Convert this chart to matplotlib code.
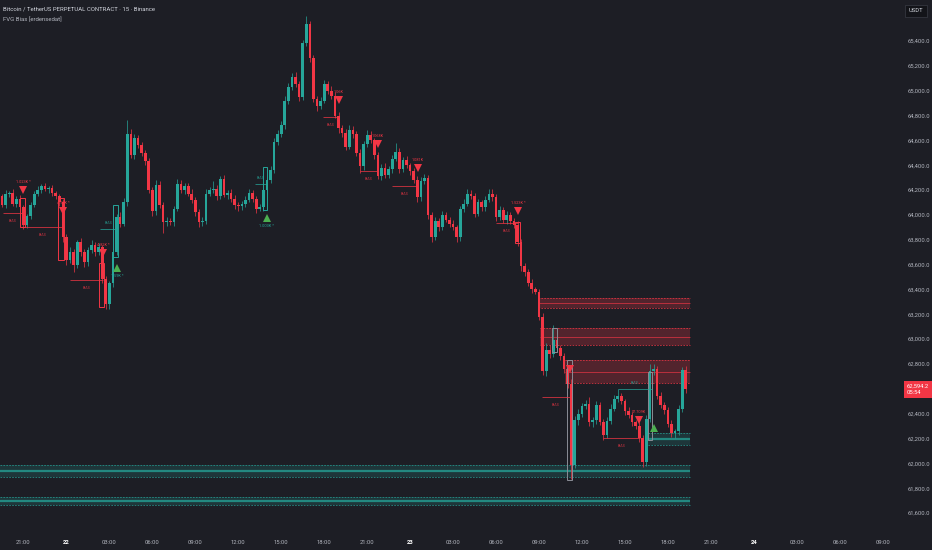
import matplotlib.pyplot as plt
import matplotlib.transforms as mtransforms
import numpy as np
from matplotlib.patches import Rectangle

plt.rcParams['font.family'] = ['Roboto', 'DejaVu Sans']

BG = '#1d1e25'
UP = '#26a69a'
DOWN = '#f23645'
TXT = '#b2b5be'

# --- candles (15m), index 0 = 19:30 on the 21st
open0 = 64150
closes = [
    64080, 64170, 64180, 64090, 64130, 64060, 63920, 63990, 64080, 64170,
    64200, 64230, 64210, 64220, 64180, 64150, 64100, 63820, 63640, 63700,
    63600, 63780, 63700, 63620, 63720, 63760, 63700, 63740, 63480, 63280,
    63450, 63700, 63980, 63930, 64100, 64650, 64480, 64620, 64560, 64500,
    64430, 64200, 64030, 64240, 64080, 63940, 63950, 63940, 64050, 64250,
    64200, 64230, 64170, 64120, 64020, 63940, 63950, 64170, 64200, 64210,
    64150, 64290, 64160, 64180, 64130, 64080, 64070, 64090, 64120, 64180,
    64130, 64050, 64060, 64200, 64280, 64360, 64590, 64650, 64720, 64920,
    65030, 65110, 65050, 64950, 65380, 65540, 65260, 64930, 64880, 64920,
    65050, 65000, 64960, 64800, 64700, 64660, 64550, 64680, 64650, 64500,
    64390, 64570, 64640, 64600, 64480, 64310, 64380, 64320, 64370, 64450,
    64510, 64370, 64440, 64400, 64350, 64280, 64140, 64270, 64300, 64000,
    63820, 63950, 63900, 64000, 63960, 63930, 63900, 63820, 64050, 64090,
    64170, 64150, 64010, 64100, 64060, 64120, 64170, 64140, 63980, 64040,
    63960, 64000, 63950, 63920, 63780, 63590, 63540, 63450, 63400, 63380,
    63180, 62740, 62910, 62880, 62990, 62930, 62860, 62760, 62640, 61990,
    62350, 62400, 62460, 62480, 62330, 62350, 62470, 62330, 62230, 62340,
    62440, 62520, 62540, 62500, 62420, 62390, 62330, 62300, 62200, 62010,
    62360, 62740, 62760, 62540, 62470, 62430, 62320, 62240, 62260, 62440,
    62750, 62594.2]
upper_wick = [
    20, 30, 15, 25, 20, 30, 20, 15, 20, 25,
    30, 20, 25, 15, 20, 15, 20, 25, 30, 40,
    25, 20, 30, 25, 20, 40, 25, 30, 20, 25,
    20, 25, 30, 40, 35, 115, 40, 30, 25, 30,
    20, 30, 25, 40, 30, 20, 30, 25, 20, 40,
    30, 25, 30, 40, 20, 25, 30, 35, 25, 60,
    30, 25, 30, 20, 25, 30, 20, 25, 30, 25,
    20, 25, 30, 20, 40, 30, 25, 30, 35, 40,
    30, 35, 40, 30, 25, 60, 20, 30, 25, 30,
    35, 25, 40, 30, 25, 20, 30, 40, 35, 25,
    30, 25, 40, 35, 20, 25, 30, 35, 25, 30,
    70, 30, 25, 30, 20, 25, 30, 35, 30, 25,
    20, 30, 25, 30, 20, 25, 30, 20, 25, 35,
    40, 30, 25, 30, 20, 30, 35, 40, 25, 30,
    25, 30, 20, 25, 30, 25, 20, 25, 30, 20,
    25, 30, 60, 40, 120, 30, 25, 30, 20, 40,
    30, 40, 25, 30, 50, 25, 30, 20, 25, 30,
    35, 30, 60, 25, 20, 30, 25, 20, 30, 25,
    30, 60, 40, 25, 30, 20, 25, 30, 20, 30,
    25, 30]
lower_wick = [
    20, 25, 30, 20, 25, 20, 30, 25, 20, 15,
    20, 25, 20, 30, 25, 20, 30, 35, 40, 30,
    60, 25, 30, 40, 30, 25, 30, 20, 30, 40,
    35, 30, 25, 30, 20, 30, 25, 30, 20, 25,
    30, 25, 40, 30, 25, 85, 30, 25, 30, 20,
    25, 30, 20, 25, 30, 40, 30, 25, 20, 25,
    30, 25, 20, 30, 25, 30, 40, 30, 25, 20,
    30, 35, 20, 25, 30, 20, 25, 30, 20, 25,
    30, 25, 20, 30, 25, 20, 30, 25, 40, 30,
    20, 25, 30, 20, 40, 30, 25, 20, 30, 25,
    50, 30, 25, 20, 30, 25, 30, 20, 25, 30,
    20, 30, 25, 20, 30, 25, 40, 30, 25, 30,
    40, 25, 30, 25, 20, 30, 25, 40, 30, 25,
    20, 25, 30, 20, 25, 30, 20, 25, 30, 20,
    25, 30, 20, 25, 30, 40, 30, 25, 30, 20,
    30, 30, 40, 30, 25, 30, 25, 30, 30, 120,
    30, 40, 30, 25, 30, 40, 30, 25, 40, 30,
    25, 20, 30, 25, 30, 25, 30, 20, 30, 40,
    30, 25, 30, 20, 25, 30, 25, 30, 40, 30,
    25, 30]

# --- FVG zones: (start index, low, high)
red_zones = [(149.7, 63250, 63331), (150.3, 62952, 63089), (157.3, 62646, 62831)]
green_zones = [(-0.6, 61889, 61986), (-0.6, 61664, 61728), (179.6, 62147, 62244)]
zone_end = 192.2

# --- signal triangles: index, price, label
sell_idx = [5.9, 17.0, 28.2, 94.1, 105.0, 116.2, 144.1, 158.7, 177.9]
sell_px = [64200, 64030, 63693, 64925, 64571, 64377, 64031, 62759, 62348]
sell_lbl = ['1.023K *', '4.58K *', '4.82K *', '1.06K', '1.068K', '1.081K', '1.523K *', '', '57.709K']
buy_idx = [32.1, 74.0, 182.1]
buy_px = [63572, 63975, 62284]
buy_lbl = ['1.59K *', '1.003K *', '']

# --- outlined FVG candles: i0, i1, low, high
red_boxes = [(5.0, 6.4, 63902, 64136), (15.6, 17.3, 63637, 64136),
             (27.1, 28.5, 63258, 63612), (143.3, 144.7, 63774, 63943)]
green_boxes = [(31.0, 32.4, 63661, 64080), (72.9, 74.0, 64039, 64385)]
grey_boxes = [(153.6, 155.0, 62896, 63089), (157.8, 159.2, 61865, 62831),
              (180.4, 181.6, 62187, 62735)]

# --- bias lines: i0, i1, price
red_bias = [(0.3, 5.6, 64015), (5.6, 17.0, 63902), (19.0, 28.2, 63476),
            (89.7, 94.1, 64788), (100.0, 105.0, 64353), (109.0, 116.2, 64232),
            (138.0, 144.1, 63935), (150.8, 158.7, 62534), (167.9, 178.2, 62203)]
green_bias = [(27.4, 32.1, 63886), (70.7, 74.0, 64249), (172.0, 181.6, 62598)]

time_ticks = [6 + 12 * k for k in range(21)]
time_labels = ['21:00', '22', '03:00', '06:00', '09:00', '12:00', '15:00', '18:00',
               '21:00', '23', '03:00', '06:00', '09:00', '12:00', '15:00', '18:00',
               '21:00', '24', '03:00', '06:00', '09:00']
# 62,600 sits under the last-price tag
price_ticks = [p for p in range(61600, 65401, 200) if p != 62600]

fig = plt.figure(figsize=(9.32, 5.5), dpi=100, facecolor=BG)
ax = fig.add_axes([0, 22 / 550, 897 / 932, 528 / 550], facecolor=BG)

closes = np.array(closes, dtype=float)
opens = np.concatenate([[open0], closes[:-1]])
idx = np.arange(len(closes))
highs = np.maximum(opens, closes) + np.array(upper_wick)
lows = np.minimum(opens, closes) - np.array(lower_wick)
cols = np.where(closes >= opens, UP, DOWN)

# zones
for x0, lo, hi in red_zones:
    ax.fill_between([x0, zone_end], lo, hi, color=DOWN, alpha=0.25, lw=0, zorder=1)
    ax.hlines([lo, hi], x0, zone_end, colors=DOWN, lw=0.6, linestyles=(0, (2, 1.5)), alpha=0.85, zorder=1)
    ax.hlines((lo + hi) / 2, x0, zone_end, colors=DOWN, lw=0.6, alpha=0.75, zorder=1)
for x0, lo, hi in green_zones:
    ax.fill_between([x0, zone_end], lo, hi, color=UP, alpha=0.18, lw=0, zorder=1)
    ax.hlines([lo, hi], x0, zone_end, colors=UP, lw=0.6, linestyles=(0, (2, 1.5)), alpha=0.8, zorder=1)
    ax.hlines((lo + hi) / 2, x0, zone_end, colors=UP, lw=1.6, alpha=0.75, zorder=1)

# candles
ax.vlines(idx, lows, highs, colors=cols, lw=0.5, zorder=3)
body = np.maximum(np.abs(closes - opens), 6)
ax.bar(idx, body, bottom=np.minimum(opens, closes), width=0.75, color=cols, lw=0, zorder=4)

# outlined candles
for boxes, c in ((red_boxes, DOWN), (green_boxes, UP), (grey_boxes, '#8a8d96')):
    for i0, i1, lo, hi in boxes:
        ax.add_patch(Rectangle((i0, lo), i1 - i0, hi - lo, fill=False, ec=c, lw=0.7, zorder=5))

# bias lines
for lines, c, off in ((red_bias, DOWN, -6), (green_bias, UP, 4)):
    for i0, i1, p in lines:
        ax.hlines(p, i0, i1, colors=c, lw=0.6, alpha=0.85, zorder=5)
        ax.annotate('BIAS', ((i0 + i1) / 2, p), xytext=(0, off), textcoords='offset points',
                    ha='center', va='center', fontsize=2.6, color=c, alpha=0.8)

# triangles
ax.plot(sell_idx, sell_px, 'v', color=DOWN, ms=5.5, mew=0, zorder=6)
ax.plot(buy_idx, buy_px, '^', color='#4caf50', ms=5.5, mew=0, zorder=6)
for x, p, t in zip(sell_idx, sell_px, sell_lbl):
    ax.annotate(t, (x, p), xytext=(0, 6), textcoords='offset points', ha='center',
                va='center', fontsize=2.8, color=DOWN)
for x, p, t in zip(buy_idx, buy_px, buy_lbl):
    ax.annotate(t, (x, p), xytext=(0, -6), textcoords='offset points', ha='center',
                va='center', fontsize=2.8, color=UP)

ax.set_xlim(-0.56, 250)
ax.set_ylim(61479, 65730)
for s in ax.spines.values():
    s.set_visible(False)

ax.yaxis.tick_right()
ax.set_yticks(price_ticks)
ax.set_yticklabels([f'{v:,.1f}' for v in price_ticks])
ax.set_xticks(time_ticks)
ax.set_xticklabels(time_labels)
ax.tick_params(axis='both', length=0, colors=TXT, labelsize=4.2)
ax.tick_params(axis='y', pad=8)
ax.tick_params(axis='x', pad=9)
for lab in ax.get_xticklabels():
    if lab.get_text() in ('22', '23', '24'):
        lab.set_color('white')
        lab.set_fontweight('bold')

# last price tag
last = closes[-1]
trans = mtransforms.blended_transform_factory(ax.transAxes, ax.transData)
ax.text(1.011, last, f'{last:,.1f}\n05:54', transform=trans, ha='left', va='center',
        fontsize=4.2, color='white', linespacing=1.3, clip_on=False, zorder=10,
        bbox=dict(boxstyle='square,pad=0.45', fc=DOWN, ec='none'))

fig.text(0.983, 1 - 11 / 550, 'USDT', ha='center', va='center', fontsize=4.2, color='#d1d4dc',
         bbox=dict(boxstyle='square,pad=0.6', fc='#131419', ec='#3a3d46', lw=0.5))
fig.text(0.003, 1 - 9 / 550, 'Bitcoin / TetherUS PERPETUAL CONTRACT · 15 · Binance',
         ha='left', va='center', fontsize=4.3, color='#d1d4dc')
fig.text(0.003, 1 - 20 / 550, 'FVG Bias [erdensedat]', ha='left', va='center',
         fontsize=4.3, color='#b2b5be')

fig.savefig('out.png', dpi=100, facecolor=BG)
